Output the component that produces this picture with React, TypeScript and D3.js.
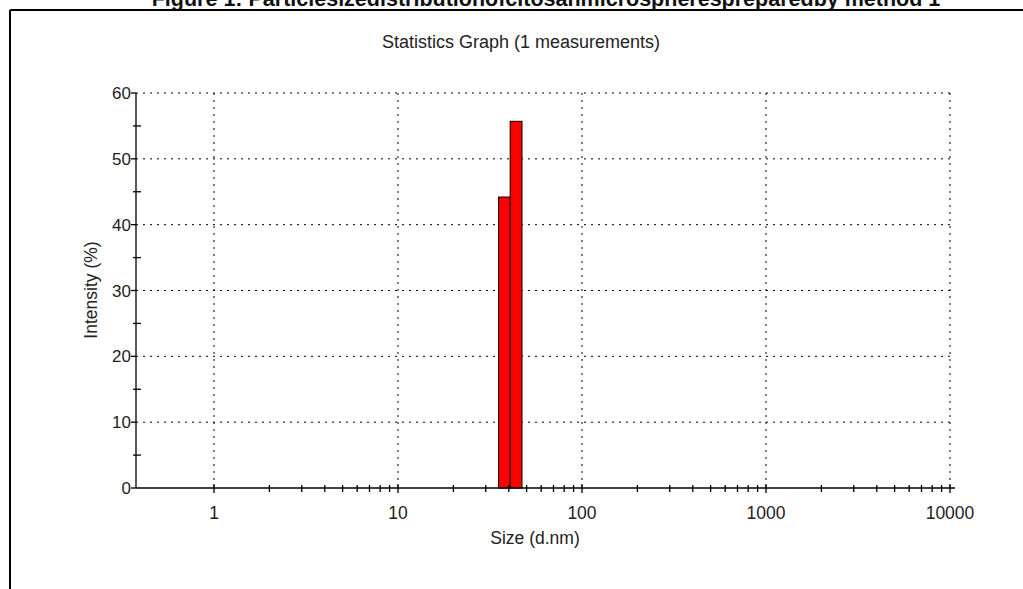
import React from 'react';
import * as d3 from 'd3';

// size classes (d.nm) and their intensity
const binLower = [35.2, 40.7];
const binUpper = [40.7, 47.2];
const intensity = [44.2, 55.7];

const yTicks = [0, 10, 20, 30, 40, 50, 60];
const yMinor = [5, 15, 25, 35, 45, 55];
const xTicks = [1, 10, 100, 1000, 10000];
const xTickLabels = ['1', '10', '100', '1000', '10000'];

const figCaption = 'Figure 1: Particlesizedistributionofcitosanmicrospherespreparedby method 1';
const title = 'Statistics Graph (1 measurements)';

const W = 1023;
const H = 589;
const font = 'Liberation Sans, Arial, sans-serif';

const App = () => {
  const x = d3.scaleLog().domain([1, 10000]).range([214, 950]);
  const y = d3.scaleLinear().domain([0, 60]).range([488, 93]);
  const xLeft = 136;
  const xRight = 955;

  // minor ticks 2..9 for each decade from 1 to 10000
  const xMinor: number[] = [];
  xTicks.slice(0, -1).forEach(d => {
    for (let k = 2; k <= 9; k++) xMinor.push(d * k);
  });

  return (
    <svg width={W} height={H} style={{ display: 'block', position: 'absolute', left: 0, top: 0 }}>
      <rect width={W} height={H} fill="#fff" />
      {/* caption, cut off at the top as in the scan */}
      <text x={546} y={6} textAnchor="middle" fontFamily={font} fontWeight="bold" fontSize={21.5} fill="#111">
        {figCaption}
      </text>
      {/* frame */}
      <line x1={10} y1={10} x2={W} y2={10} stroke="#000" strokeWidth={2} />
      <line x1={10} y1={10} x2={10} y2={H} stroke="#000" strokeWidth={2} />

      <text x={521} y={48} textAnchor="middle" fontFamily={font} fontSize={18} fill="#222">
        {title}
      </text>

      {/* grid */}
      {yTicks.filter(d => d > 0).map(d => (
        <line key={'gy' + d} x1={xLeft} x2={x(10000)} y1={y(d)} y2={y(d)}
          stroke="#000" strokeWidth={1} strokeDasharray="2,5" />
      ))}
      {xTicks.map(d => (
        <line key={'gx' + d} x1={x(d)} x2={x(d)} y1={y(60)} y2={y(0)}
          stroke="#000" strokeWidth={1} strokeDasharray="2,5" />
      ))}

      {/* bars */}
      {intensity.map((v, i) => (
        <rect key={'b' + i} x={x(binLower[i])} y={y(v)} width={x(binUpper[i]) - x(binLower[i])}
          height={y(0) - y(v)} fill="#ff0000" stroke="#000" strokeWidth={1} />
      ))}

      {/* y axis */}
      <line x1={xLeft} x2={xLeft} y1={y(60)} y2={y(0)} stroke="#000" strokeWidth={1.3} />
      {yTicks.map(d => (
        <g key={'yt' + d}>
          <line x1={xLeft - 5} x2={xLeft} y1={y(d)} y2={y(d)} stroke="#000" strokeWidth={1.3} />
          <text x={xLeft - 5} y={y(d) + 6} textAnchor="end" fontFamily={font} fontSize={17} fill="#222">{d}</text>
        </g>
      ))}
      {yMinor.map(d => (
        <line key={'ym' + d} x1={xLeft - 3} x2={xLeft + 5} y1={y(d)} y2={y(d)} stroke="#000" strokeWidth={1.3} />
      ))}
      <text transform={`translate(97,290) rotate(-90)`} textAnchor="middle" fontFamily={font} fontSize={17.5} fill="#222">
        Intensity (%)
      </text>

      {/* x axis */}
      <line x1={xLeft} x2={xRight} y1={y(0)} y2={y(0)} stroke="#000" strokeWidth={1.3} />
      {xMinor.map((d, i) => (
        <line key={'xm' + i} x1={x(d)} x2={x(d)} y1={y(0) - 3} y2={y(0) + 4} stroke="#000" strokeWidth={1.3} />
      ))}
      {xTicks.map((d, i) => (
        <g key={'xt' + d}>
          <line x1={x(d)} x2={x(d)} y1={y(0) - 4} y2={y(0) + 5} stroke="#000" strokeWidth={1.3} />
          <text x={x(d)} y={519} textAnchor="middle" fontFamily={font} fontSize={17.5} fill="#222">{xTickLabels[i]}</text>
        </g>
      ))}
      <text x={535} y={544} textAnchor="middle" fontFamily={font} fontSize={17.5} fill="#222">Size (d.nm)</text>
    </svg>
  );
};

export default App;
